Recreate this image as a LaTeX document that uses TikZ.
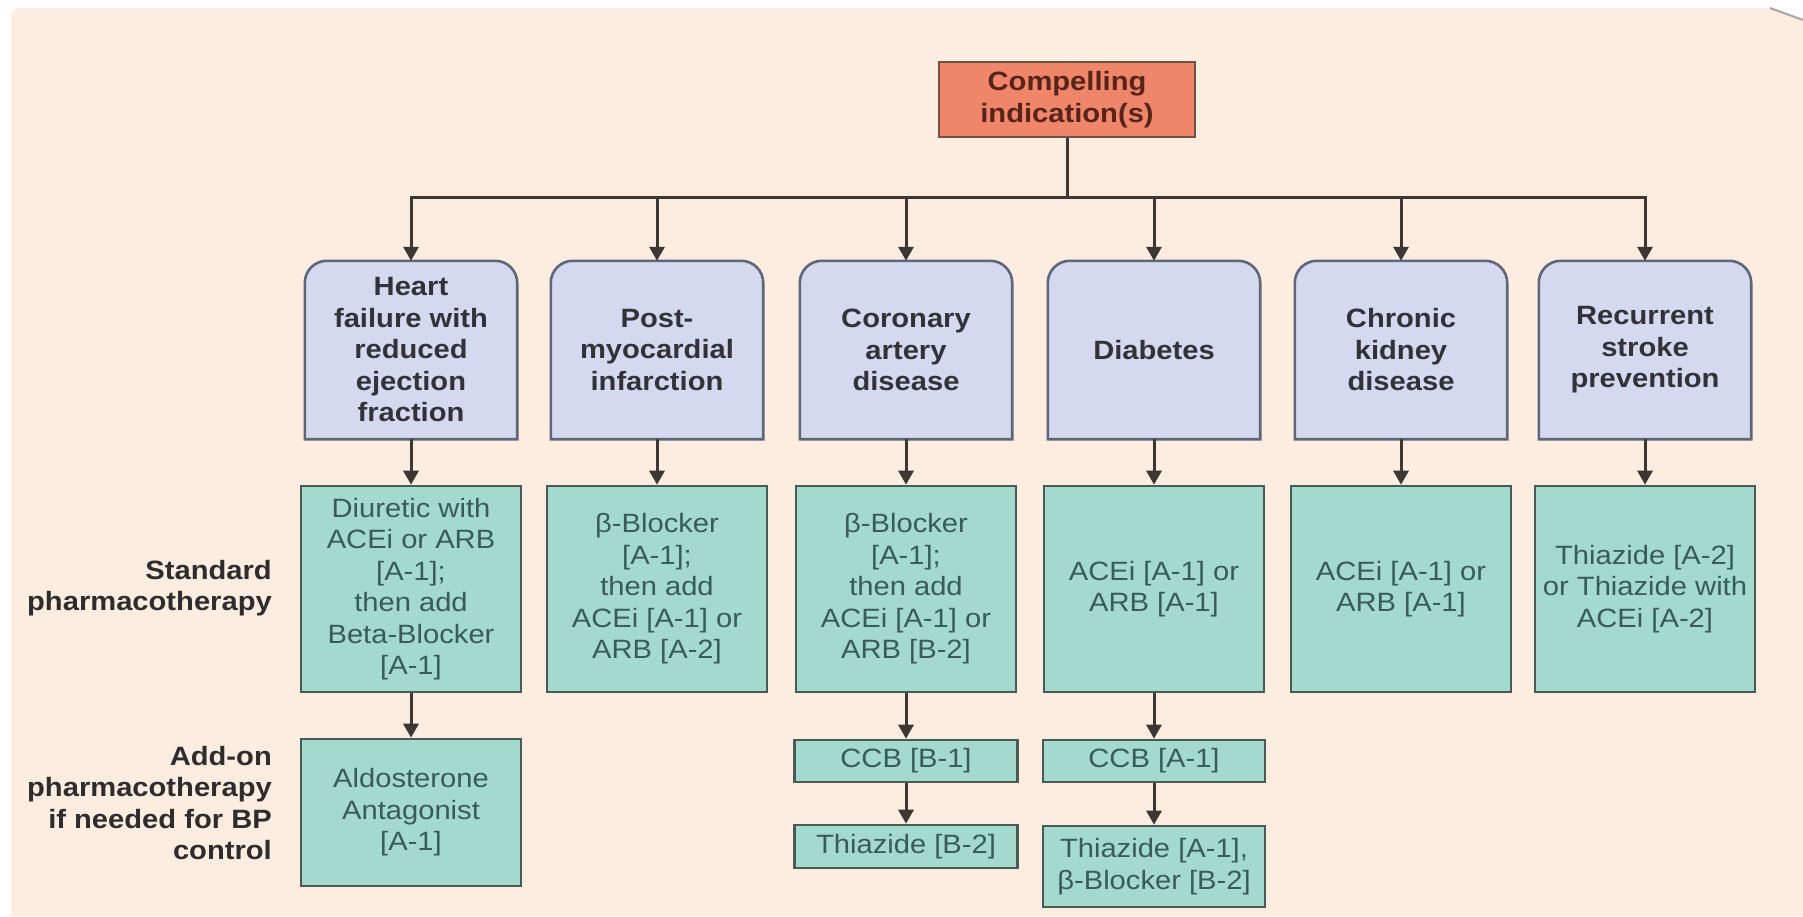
\documentclass[tikz,border=0pt]{standalone}
\usepackage{fontspec}
\setmainfont{Liberation Sans}[FakeStretch=1.1]
\usetikzlibrary{arrows.meta,backgrounds,calc}

\definecolor{peach}{RGB}{253,236,224}
\definecolor{topfill}{RGB}{239,134,106}
\definecolor{topdraw}{RGB}{112,82,72}
\definecolor{toptext}{RGB}{88,36,26}
\definecolor{condfill}{RGB}{212,217,240}
\definecolor{conddraw}{RGB}{96,102,122}
\definecolor{condtext}{RGB}{50,50,56}
\definecolor{drugfill}{RGB}{164,218,206}
\definecolor{drugdraw}{RGB}{74,90,86}
\definecolor{drugtext}{RGB}{56,92,86}
\definecolor{linec}{RGB}{60,55,50}
\definecolor{labeltext}{RGB}{45,45,45}

\newcommand\boxfont{\fontsize{26.5}{31.5}\selectfont}

\tikzset{
  conn/.style={draw=linec, line width=3pt, -{Triangle[width=15pt,length=14pt]}},
  topbox/.style={draw=topdraw, fill=topfill, line width=2.6pt, inner sep=2pt,
    minimum width=256pt, minimum height=75pt, align=center,
    font=\boxfont\bfseries, text=toptext},
  condbox/.style={inner sep=2pt, minimum width=212pt, minimum height=178pt,
    align=center, font=\boxfont\bfseries, text=condtext},
  condshape/.style={draw=conddraw, fill=condfill, line width=2.6pt},
  drugbox/.style={draw=drugdraw, fill=drugfill, line width=2.6pt, inner sep=2pt,
    minimum width=220pt, align=center, font=\boxfont, text=drugtext},
  sidelabel/.style={anchor=east, align=right, inner sep=0pt,
    font=\boxfont\bfseries, text=labeltext}
}

\begin{document}
\begin{tikzpicture}[x=1pt,y=-1pt]
\useasboundingbox (0,0) rectangle (1803,916);

% sheet
\begin{scope}[on background layer]
  \fill[white] (0,0) rectangle (1803,916);
  \fill[peach] (11,916) -- (11,16) arc[start angle=180,end angle=90,radius=8pt]
    -- (1772,8) -- (1803,19) -- (1803,916) -- cycle;
  \draw[black!35, line width=2pt] (1770,8) -- (1803,20);
\end{scope}

% root
\node[topbox] (top) at (1067,99.5) {Compelling\\indication(s)};
\coordinate (bar) at (1067,197);

% compelling indications
\node[condbox] (c1) at (411,350) {Heart\\failure with\\reduced\\ejection\\fraction};
\node[condbox] (c2) at (657,350) {Post-\\myocardial\\infarction};
\node[condbox] (c3) at (906,350) {Coronary\\artery\\disease};
\node[condbox] (c4) at (1154,350) {Diabetes};
\node[condbox] (c5) at (1401,350) {Chronic\\kidney\\disease};
\node[condbox] (c6) at (1645,350) {Recurrent\\stroke\\prevention};

\begin{scope}[on background layer]
  \foreach \n in {c1,c2,c3,c4,c5,c6}
    \path[condshape] (\n.south west) -- ([yshift=-22pt]\n.north west)
      arc[start angle=180,end angle=90,radius=22pt]
      -- ([xshift=-22pt]\n.north east)
      arc[start angle=90,end angle=0,radius=22pt]
      -- (\n.south east) -- cycle;
\end{scope}

% standard pharmacotherapy
\node[drugbox, minimum height=206pt] (s1) at (411,589)
  {Diuretic with\\ACEi or ARB\\{}[A-1];\\then add\\Beta-Blocker\\{}[A-1]};
\node[drugbox, minimum height=206pt] (s2) at (657,589)
  {β-Blocker\\{}[A-1];\\then add\\ACEi [A-1] or\\ARB [A-2]};
\node[drugbox, minimum height=206pt] (s3) at (906,589)
  {β-Blocker\\{}[A-1];\\then add\\ACEi [A-1] or\\ARB [B-2]};
\node[drugbox, minimum height=206pt] (s4) at (1154,589)
  {ACEi [A-1] or\\ARB [A-1]};
\node[drugbox, minimum height=206pt] (s5) at (1401,589)
  {ACEi [A-1] or\\ARB [A-1]};
\node[drugbox, minimum height=206pt] (s6) at (1645,589)
  {Thiazide [A-2]\\or Thiazide with\\ACEi [A-2]};

% add-on pharmacotherapy
\node[drugbox, minimum height=147pt] (a1) at (411,812.5)
  {Aldosterone\\Antagonist\\{}[A-1]};
\node[drugbox, minimum width=223pt, minimum height=42pt] (a3) at (906,761) {CCB [B-1]};
\node[drugbox, minimum width=223pt, minimum height=43pt] (b3) at (906,846.5) {Thiazide [B-2]};
\node[drugbox, minimum width=222pt, minimum height=42pt] (a4) at (1154,761) {CCB [A-1]};
\node[drugbox, minimum width=222pt, minimum height=81pt] (b4) at (1154,866.5)
  {Thiazide [A-1],\\β-Blocker [B-2]};

% row labels
\node[sidelabel] (lstd) at (272,588) {Standard\\pharmacotherapy};
\node[sidelabel] (ladd) at (272,803) {Add-on\\pharmacotherapy\\if needed for BP\\control};

% connectors
\foreach \n in {c1,c2,c3,c4,c5,c6}
  \draw[conn] (top.south) -- (bar) -| (\n.north);
\foreach \i in {1,...,6}
  \draw[conn] (c\i.south) -- (s\i.north);
\draw[conn] (s1.south) -- (a1.north);
\draw[conn] (s3.south) -- (a3.north);
\draw[conn] (a3.south) -- (b3.north);
\draw[conn] (s4.south) -- (a4.north);
\draw[conn] (a4.south) -- (b4.north);
\end{tikzpicture}
\end{document}
